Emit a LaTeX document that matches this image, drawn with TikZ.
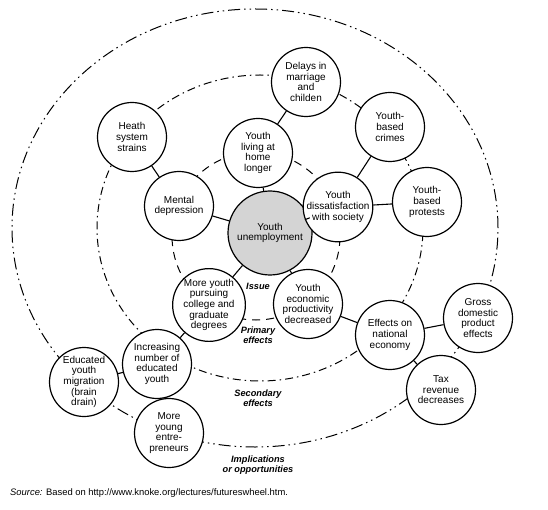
\documentclass[tikz,border=0pt]{standalone}
\usepackage{fontspec}
\setmainfont{Liberation Sans}
\usepackage{tikz}

\begin{document}
\begin{tikzpicture}[x=1pt, y=-1pt,
effect/.style={circle, draw, line width=1.2pt, fill=white, minimum size=69pt, inner sep=0pt, align=center, font=\fontsize{10}{10.6}\selectfont},
issue/.style={effect, fill=black!17, minimum size=84pt},
link/.style={line width=1.1pt},
ringlabel/.style={align=center, font=\fontsize{9.2}{10.5}\selectfont\bfseries\itshape},
primaryring/.style={line width=1pt, dash pattern=on 8pt off 6pt},
secondring/.style={line width=1pt, dash pattern=on 8pt off 4pt on 1.5pt off 4pt},
outerring/.style={line width=1pt, dash pattern=on 12pt off 4pt on 1.5pt off 4pt on 1.5pt off 4pt}]
\useasboundingbox (0,0) rectangle (548,510);

%Rings
\draw[outerring] (255,228) ellipse [x radius=243pt, y radius=219pt];
\draw[secondring] (260,228) ellipse [x radius=163pt, y radius=153pt];
\draw[primaryring] (256,236) circle [radius=84pt];

%Issue
\node [issue] at (270,233) (issue){Youth\\unemployment};

%Primary effects
\node [effect] at (258,153) (home){Youth\\living at\\home\\longer};
\node [effect] at (179,206) (mental){Mental\\depression};
\node [effect] at (338,207) (dissat){Youth\\dissatisfaction\\with society};
\node [effect] at (209,305) (college){More youth\\pursuing\\college and\\graduate\\degrees};
\node [effect] at (308,304) (product){Youth\\economic\\productivity\\decreased};

%Secondary effects
\node [effect] at (306,82) (delays){Delays in\\marriage\\and\\childen};
\node [effect] at (132,137) (health){Heath\\system\\strains};
\node [effect] at (390,127) (crimes){Youth-\\based\\crimes};
\node [effect] at (427,202) (protests){Youth-\\based\\protests};
\node [effect] at (390,335) (economy){Effects on\\national\\economy};
\node [effect] at (157,364) (educated){Increasing\\number of\\educated\\youth};

%Implications
\node [effect] at (478,318) (gdp){Gross\\domestic\\product\\effects};
\node [effect] at (441,390) (tax){Tax\\revenue\\decreases};
\node [effect] at (84,382) (brain){Educated\\youth\\migration\\(brain\\drain)};
\node [effect] at (169,433) (entre){More\\young\\entre-\\preneurs};

%Links
\draw[link] (issue) -- (home);
\draw[link] (issue) -- (mental);
\draw[link] (issue) -- (dissat);
\draw[link] (issue) -- (college);
\draw[link] (issue) -- (product);
\draw[link] (home) -- (delays);
\draw[link] (mental) -- (health);
\draw[link] (dissat) -- (crimes);
\draw[link] (dissat) -- (protests);
\draw[link] (product) -- (economy);
\draw[link] (economy) -- (gdp);
\draw[link] (economy) -- (tax);
\draw[link] (college) -- (educated);
\draw[link] (educated) -- (brain);
\draw[link] (educated) -- (entre);

%Labels
\node [ringlabel] at (258,286) (issuelabel){Issue};
\node [ringlabel] at (258,335) (primarylabel){Primary\\effects};
\node [ringlabel] at (258,398) (secondlabel){Secondary\\effects};
\node [ringlabel] at (258,465) (outerlabel){Implications\\or opportunities};
\node [anchor=west, inner sep=0pt, font=\fontsize{9.4}{10}\selectfont] at (10,493) (source){\textit{Source:} Based on http://www.knoke.org/lectures/futureswheel.htm.};
\end{tikzpicture}
\end{document}
